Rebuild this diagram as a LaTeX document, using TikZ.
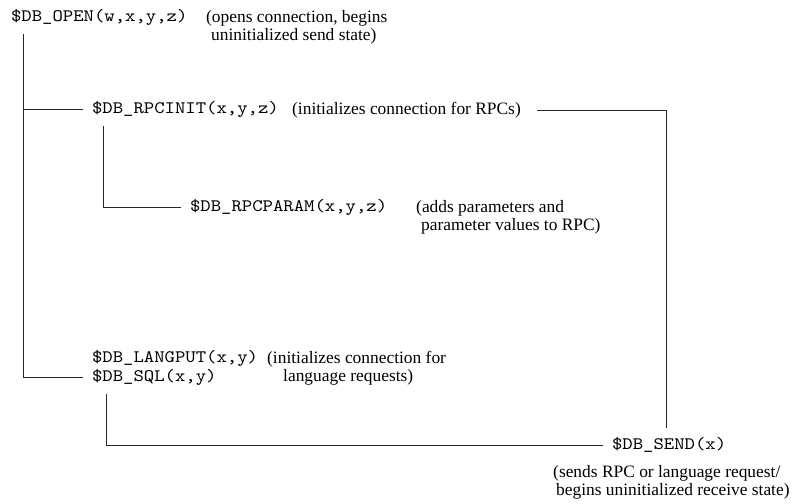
\documentclass[tikz,border=0pt]{standalone}
\usepackage{fontspec}
\setmainfont{Liberation Serif}
\newfontfamily\codefont{lmmono10-regular.otf}[FakeStretch=1.13]
\usetikzlibrary{positioning}

\tikzset{
	call/.style={font=\codefont\fontsize{17.5}{20}\selectfont, inner sep=0pt, outer sep=9pt, anchor=west},
	note/.style={font=\fontsize{17.4}{18.5}\selectfont, inner sep=0pt, align=left, anchor=north west},
	link/.style={line width=0.9pt, black!85}
}

\begin{document}
\begin{tikzpicture}[x=1pt, y=-1pt]
	\useasboundingbox (0,0) rectangle (799,503);
	\node[call] (open) at (2,17) {\$DB\textunderscore OPEN(w,x,y,z)};
	\node[note] (opennote) at (206,10) {(opens connection, begins\\\hspace*{5pt}uninitialized send state)};
	\node[call] (rpcinit) at (83,109) {\$DB\textunderscore RPCINIT(x,y,z)};
	\node[note] (initnote) at (292,102) {(initializes connection for RPCs)};
	\node[call] (rpcparam) at (181,207) {\$DB\textunderscore RPCPARAM(x,y,z)};
	\node[note] (paramnote) at (416,200) {(adds parameters and\\\hspace*{5pt}parameter values to RPC)};
	\node[call] (langput) at (83,358) {\$DB\textunderscore LANGPUT(x,y)};
	\node[call] (sql) at (83,377) {\$DB\textunderscore SQL(x,y)};
	\node[note] (langnote) at (267,351) {(initializes connection for\\\hspace*{16pt}language requests)};
	\node[call] (send) at (603,445) {\$DB\textunderscore SEND(x)};
	\node[note] (sendnote) at (553,465) {(sends RPC or language request/\\\hspace*{3pt}begins uninitialized receive state)};

	\draw[link] ([xshift=21pt]open.south west) |- (sql.west);
	\draw[link] ([xshift=21pt]open.south west) |- (rpcinit.west);
	\draw[link] ([xshift=20pt]rpcinit.south west) |- (rpcparam.west);
	\draw[link] ([xshift=23pt]sql.south west) |- (send.west);
	\draw[link] ([xshift=16pt]initnote.east) -| ([xshift=-3pt]send.north);
\end{tikzpicture}
\end{document}
